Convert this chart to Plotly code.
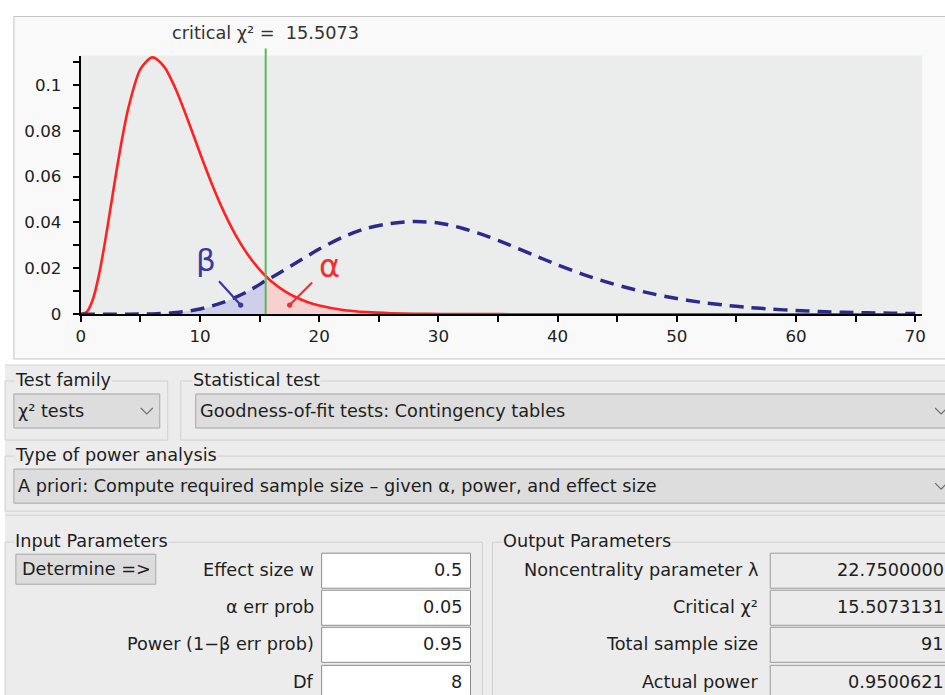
import plotly.graph_objects as go

# ---------------- data ----------------
critical_chi2 = 15.5073

central_x = [0, 0.5, 1, 1.5, 2, 2.5, 3, 3.5, 4, 5, 6, 7, 8, 9, 10, 11, 12, 13, 14, 15,
             15.5073, 16, 17, 18, 19, 20, 22, 24, 26, 28, 30, 35, 40, 50, 60, 70]
central_y = [0, 0.00101, 0.00632, 0.01661, 0.03066, 0.04663, 0.06276, 0.07761, 0.09022,
             0.10688, 0.11202, 0.10789, 0.09768, 0.08436, 0.07019, 0.05666, 0.04462,
             0.03441, 0.02607, 0.01944, 0.01667, 0.01431, 0.01041, 0.00750, 0.00535,
             0.00378, 0.00185, 0.00089, 0.00041, 0.00019, 0.00009, 0.00001, 0, 0, 0, 0]

noncentral_x = [0, 2, 4, 6, 8, 10, 12, 14, 15.5073, 16, 18, 20, 22, 24, 26, 28, 30, 32, 34,
                36, 38, 40, 42, 44, 46, 48, 50, 52, 54, 56, 58, 60, 62, 64, 66, 68, 70]
noncentral_y = [0, 0.0000001, 0.00001, 0.00013, 0.00069, 0.00223, 0.00524, 0.00990,
                0.01460, 0.01600, 0.02220, 0.02840, 0.03370, 0.03750, 0.03960, 0.04040,
                0.03980, 0.03750, 0.03420, 0.03010, 0.02580, 0.02150, 0.01760, 0.01420,
                0.01130, 0.00885, 0.00683, 0.00522, 0.00395, 0.00296, 0.00219, 0.00161,
                0.00117, 0.00085, 0.00061, 0.00043, 0.00030]

x_ticks = [0, 10, 20, 30, 40, 50, 60, 70]
x_tick_labels = ["0", "10", "20", "30", "40", "50", "60", "70"]
y_ticks = [0, 0.02, 0.04, 0.06, 0.08, 0.1]
y_tick_labels = ["0", "0.02", "0.04", "0.06", "0.08", "0.1"]

test_family = "χ² tests"
statistical_test = "Goodness-of-fit tests: Contingency tables"
analysis_type = "A priori: Compute required sample size – given α, power, and effect size"
input_labels = ["Effect size w", "α err prob", "Power (1−β err prob)", "Df"]
input_values = ["0.5", "0.05", "0.95", "8"]
output_labels = ["Noncentrality parameter λ", "Critical χ²", "Total sample size", "Actual power"]
output_values = ["22.7500000", "15.5073131", "91", "0.9500621"]

# ---------------- layout helpers ----------------
W, H = 953, 706
FONT = "DejaVu Sans"
FS = 1.012          # font compensation
GUI_SIZE = 17.5 * FS
# screen-pixel -> figure-pixel mapping (compensates the capture scaling)
SX, OX = 0.9914, 4.1
SY, OY = 0.9846, -0.5


def px(x):
    v = (x - OX) / SX
    return min(max(v, 0), W) / W


def py(y):
    v = (y - OY) / SY
    return 1 - min(max(v, 0), H) / H


shapes = []
annotations = []


def rect(x0, y0, x1, y1, fill, line="#a0a0a0", lw=1):
    shapes.append(dict(type="rect", xref="paper", yref="paper",
                       x0=px(x0), x1=px(x1), y0=py(y1), y1=py(y0),
                       fillcolor=fill, line=dict(color=line, width=lw), layer="below"))


def text(x, y, s, anchor="left", size=GUI_SIZE, color="#1e1e1e", bg=None):
    a = dict(xref="paper", yref="paper", x=px(x), y=py(y), text=s, showarrow=False,
             xanchor=anchor, yanchor="middle", font=dict(family=FONT, size=size, color=color))
    if bg:
        a["bgcolor"] = bg
        a["borderpad"] = 0
    annotations.append(a)


def chevron(cx, cy):
    shapes.append(dict(type="path", xref="paper", yref="paper",
                       path=f"M {px(cx-6)},{py(cy-3)} L {px(cx)},{py(cy+3)} L {px(cx+6)},{py(cy-3)}",
                       line=dict(color="#707070", width=1.2)))


# chart panel
rect(13, 16, 960, 358, "#f9f9f9", "#c4c4c4")
# plot area background
rect(80, 55, 922, 313.3, "#ebecec", "#ebecec", 0)
# GUI area
rect(-20, 364, 1000, 720, "#ececec", "#d4d4d4", 0)
shapes.append(dict(type="line", xref="paper", yref="paper", x0=0, x1=1,
                   y0=py(364), y1=py(364), line=dict(color="#d4d4d4", width=1)))

# group boxes
GB = "#d0d0d0"
rect(3, 380, 167, 439, "rgba(0,0,0,0)", GB)
rect(180, 380, 960, 439, "rgba(0,0,0,0)", GB)
rect(3, 455, 960, 510, "rgba(0,0,0,0)", GB)
shapes.append(dict(type="line", xref="paper", yref="paper", x0=0, x1=1,
                   y0=py(514), y1=py(514), line=dict(color=GB, width=1)))
rect(3, 541, 482, 720, "rgba(0,0,0,0)", GB)
rect(492, 541, 960, 720, "rgba(0,0,0,0)", GB)

text(13, 379, "Test family", bg="#ececec")
text(191, 379, "Statistical test", bg="#ececec")
text(13, 454, "Type of power analysis", bg="#ececec")
text(13, 540, "Input Parameters", bg="#ececec")
text(502, 540, "Output Parameters", bg="#ececec")

# combo boxes
rect(13, 393, 159, 427, "#dddddd", "#a6a6a6")
text(15, 410, test_family)
chevron(146, 410)
rect(195, 393, 960, 427, "#dddddd", "#a6a6a6")
text(197, 410, statistical_test)
chevron(941, 410)
rect(13, 468, 960, 502, "#dddddd", "#a6a6a6")
text(15, 485, analysis_type)
chevron(941, 485)

# button
rect(15, 553, 155, 583, "#dcdcdc", "#a9a9a9")
text(19, 568, "Determine =>")

row_y = [569, 606, 643, 681]
box_y = [(552, 587), (589, 624), (626, 661), (664, 720)]
for lab, val, yc, (b0, b1) in zip(input_labels, input_values, row_y, box_y):
    text(315, yc, lab, anchor="right")
    rect(321, b0, 470, b1, "#ffffff", "#8c8c8c")
    text(463, yc, val, anchor="right")
for lab, val, yc, (b0, b1) in zip(output_labels, output_values, row_y, box_y):
    text(760, yc, lab, anchor="right")
    rect(770, b0, 960, b1, "#ececec", "#9a9a9a")
    text(946, yc, val, anchor="right")

# ---------------- chart ----------------
fig = go.Figure()

beta_x = [x for x in noncentral_x if x <= critical_chi2]
beta_y = [y for x, y in zip(noncentral_x, noncentral_y) if x <= critical_chi2]
alpha_x = [x for x in central_x if x >= critical_chi2]
alpha_y = [y for x, y in zip(central_x, central_y) if x >= critical_chi2]

fig.add_trace(go.Scatter(x=beta_x, y=beta_y, mode="lines", fill="tozeroy",
                         fillcolor="#cdd0e8", line=dict(width=0, shape="spline"),
                         hoverinfo="skip"))
fig.add_trace(go.Scatter(x=alpha_x, y=alpha_y, mode="lines", fill="tozeroy",
                         fillcolor="#f9d0d0", line=dict(width=0, shape="spline"),
                         hoverinfo="skip"))
fig.add_trace(go.Scatter(x=central_x, y=central_y, mode="lines",
                         line=dict(color="#ff2222", width=2.6, shape="spline", smoothing=0.8)))
fig.add_trace(go.Scatter(x=noncentral_x, y=noncentral_y, mode="lines",
                         line=dict(color="#2d2b8a", width=3.5, shape="spline", smoothing=0.8,
                                   dash="14px,8px")))

# critical line
shapes.append(dict(type="line", xref="x", yref="paper", x0=critical_chi2, x1=critical_chi2,
                   y0=py(313.3), y1=py(48), line=dict(color="#5cb85c", width=2)))
annotations.append(dict(xref="x", yref="paper", x=critical_chi2, y=py(32),
                        text="critical χ² =  15.5073", showarrow=False,
                        xanchor="center", yanchor="middle",
                        font=dict(family=FONT, size=17.5 * FS, color="#333333")))

# beta / alpha markers
annotations.append(dict(xref="x", yref="y", x=13.41, y=0.0040, ax=11.48, ay=0.0150,
                        axref="x", ayref="y", text="", showarrow=True,
                        arrowhead=6, arrowsize=0.6, arrowwidth=2.2, arrowcolor="#3b39a0"))
annotations.append(dict(xref="x", yref="y", x=10.48, y=0.0235, text="β", showarrow=False,
                        font=dict(family=FONT, size=31, color="#3b39a0")))
annotations.append(dict(xref="x", yref="y", x=17.52, y=0.0040, ax=19.53, ay=0.0145,
                        axref="x", ayref="y", text="", showarrow=True,
                        arrowhead=6, arrowsize=0.6, arrowwidth=2.2, arrowcolor="#f03030"))
annotations.append(dict(xref="x", yref="y", x=20.85, y=0.0208, text="α", showarrow=False,
                        font=dict(family=FONT, size=32, color="#f03030")))

fig.update_layout(
    width=W, height=H, margin=dict(l=0, r=0, t=0, b=0),
    paper_bgcolor="#ffffff", plot_bgcolor="rgba(0,0,0,0)",
    showlegend=False, shapes=shapes, annotations=annotations,
    font=dict(family=FONT),
    xaxis=dict(domain=[px(80), px(922)], range=[0, 70.58], showgrid=False, zeroline=False,
               showline=True, linecolor="#000000", linewidth=2,
               ticks="outside", ticklen=6, tickwidth=2, tickcolor="#000000",
               tickvals=x_ticks, ticktext=x_tick_labels,
               minor=dict(dtick=5, tick0=0, ticks="outside", ticklen=6, tickwidth=2,
                          tickcolor="#000000", showgrid=False),
               tickfont=dict(family=FONT, size=16.5 * FS, color="#1e1e1e"), anchor="y"),
    yaxis=dict(domain=[py(313.3), py(55)], range=[0, 0.1128], showgrid=False, zeroline=False,
               showline=True, linecolor="#000000", linewidth=2,
               ticks="outside", ticklen=6, tickwidth=2, tickcolor="#000000",
               tickvals=y_ticks, ticktext=y_tick_labels,
               minor=dict(dtick=0.01, tick0=0, ticks="outside", ticklen=6, tickwidth=2,
                          tickcolor="#000000", showgrid=False),
               ticklabelstandoff=8,
               tickfont=dict(family=FONT, size=16.5 * FS, color="#1e1e1e"), anchor="x"),
)

page_css = (
    "var s=document.createElement('style');"
    "s.textContent='html,body{margin:0!important;padding:0!important;overflow:hidden!important;"
    "font-size:0;line-height:0;}';"
    "document.head.appendChild(s);"
)
fig.write_html("out.html", config={"displayModeBar": False}, post_script=page_css)
